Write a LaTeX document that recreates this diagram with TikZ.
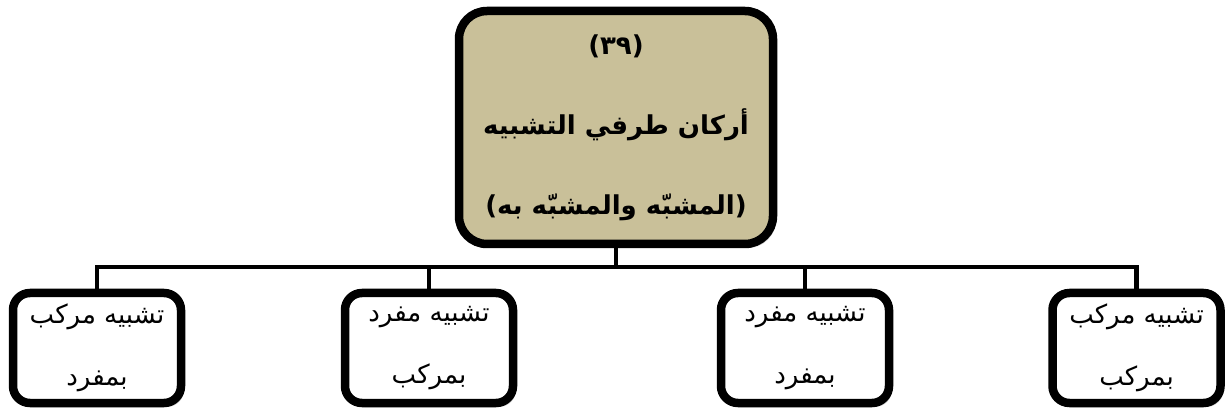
\documentclass[tikz,border=0pt]{standalone}
\usepackage{fontspec}
\newfontfamily\arabicfont[Script=Arabic]{DejaVu Sans}
\TeXXeTstate=1
\usetikzlibrary{shadows}
\definecolor{khakibox}{RGB}{201,192,153}
\begin{document}
\begin{tikzpicture}[x=1pt,y=-1pt,
  box/.style={draw=black, line width=8.5pt, rounded corners=17pt, fill=white,
    drop shadow={opacity=0.35, shadow xshift=3pt, shadow yshift=-4pt},
    inner sep=0pt, align=center},
  leaf/.style={box, minimum width=168pt, minimum height=110pt,
    font=\arabicfont\fontsize{26}{62}\selectfont},
  link/.style={line width=4.5pt}]
\useasboundingbox (0,0) rectangle (1227,414);
\node[box, fill=khakibox, rounded corners=28pt, minimum width=314pt, minimum height=233pt,
  font=\arabicfont\bfseries\fontsize{26}{80}\selectfont] (top) at (616,127.5)
  {(٣٩)\\\beginR أركان طرفي التشبيه\endR\\\beginR (المشبّه والمشبّه به)\endR};
\node[leaf] (b1) at (97,348) {\beginR تشبيه مركب\endR\\\beginR بمفرد\endR};
\node[leaf] (b2) at (429,348) {\beginR تشبيه مفرد\endR\\\beginR بمركب\endR};
\node[leaf] (b3) at (805,348) {\beginR تشبيه مفرد\endR\\\beginR بمفرد\endR};
\node[leaf] (b4) at (1136.5,348) {\beginR تشبيه مركب\endR\\\beginR بمركب\endR};
\coordinate (bus) at (616,267);
\draw[link] (top.south) -- (bus);
\foreach \n in {b1,b2,b3,b4} \draw[link] (\n.north) |- (bus);
\end{tikzpicture}
\end{document}
